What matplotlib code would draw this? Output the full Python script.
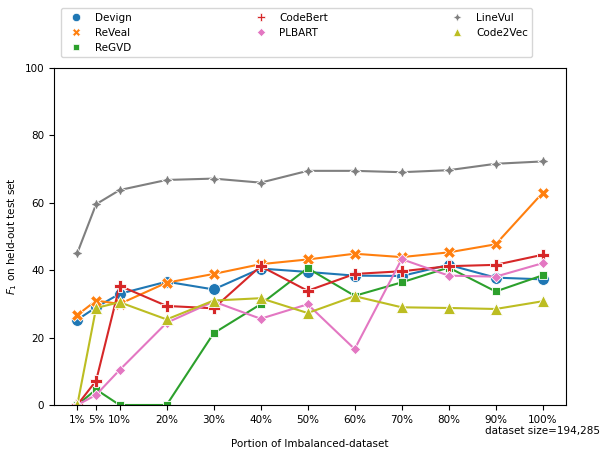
import matplotlib
matplotlib.use("Agg")
import matplotlib.pyplot as plt
from matplotlib.lines import Line2D

portions = [1, 5, 10, 20, 30, 40, 50, 60, 70, 80, 90, 100]
tick_labels = ["1%", "5%", "10%", "20%", "30%", "40%", "50%", "60%", "70%",
               "80%", "90%", "100%\ndataset size=194,285"]

devign = [25.3, 29.0, 33.0, 36.6, 34.3, 40.5, 39.5, 38.4, 38.3, 41.6, 37.8, 37.3]
reveal = [26.7, 31.0, 30.0, 36.3, 38.9, 41.8, 43.2, 44.9, 43.9, 45.3, 47.7, 63.0]
regvd = [0.0, 4.6, 0.0, 0.0, 21.3, 29.9, 40.6, 32.4, 36.4, 40.8, 33.7, 38.5]
codebert = [0.0, 7.2, 35.4, 29.4, 28.7, 41.2, 33.9, 38.9, 39.7, 41.2, 41.6, 44.6]
plbart = [0.0, 3.0, 10.4, 24.4, 30.7, 25.6, 29.9, 16.6, 43.3, 38.4, 38.1, 42.1]
linevul = [45.1, 59.6, 63.8, 66.8, 67.2, 66.0, 69.5, 69.5, 69.1, 69.7, 71.6, 72.3]
code2vec = [0.0, 28.8, 30.5, 25.4, 31.0, 31.7, 27.3, 32.3, 29.0, 28.8, 28.5, 30.8]

models = ["Devign", "ReVeal", "ReGVD", "CodeBert", "PLBART", "LineVul", "Code2Vec"]
series = [devign, reveal, regvd, codebert, plbart, linevul, code2vec]
colors = ["tab:blue", "tab:orange", "tab:green", "tab:red", "tab:pink", "tab:gray", "tab:olive"]
markers = ["o", "X", (4, 0, 45), "P", (4, 0, 0), (4, 1, 0), "^"]
sizes = [8.5, 9, 8.5, 9, 7.5, 8, 8]

fig = plt.figure(figsize=(6.03, 4.51), dpi=100)
ax = fig.add_axes([0.0896, 0.102, 0.849, 0.747])

handles = []
for name, vals, c, m, s in zip(models, series, colors, markers, sizes):
    ax.plot(portions, vals, color=c, marker=m, markersize=s, markeredgecolor="white",
            markeredgewidth=0.6, linewidth=1.5)
    handles.append(Line2D([], [], color=c, marker=m, linestyle="", markersize=6,
                          markeredgecolor="white", markeredgewidth=0.5, label=name))

ax.set_ylim(0, 100)
ax.set_xticks(portions)
ax.set_xticklabels(tick_labels, fontsize=7.5)
ax.tick_params(axis="y", labelsize=7.5)
ax.set_xlabel("Portion of Imbalanced-dataset", fontsize=7.5, labelpad=2)
ax.set_ylabel("$F_1$ on held-out test set", fontsize=7.5)

ax.legend(handles=handles, loc="lower left", bbox_to_anchor=(0.004, 1.017, 0.94, 0.1),
          mode="expand", ncol=3, fontsize=7.5, frameon=True)

fig.savefig("out.png", dpi=100)
